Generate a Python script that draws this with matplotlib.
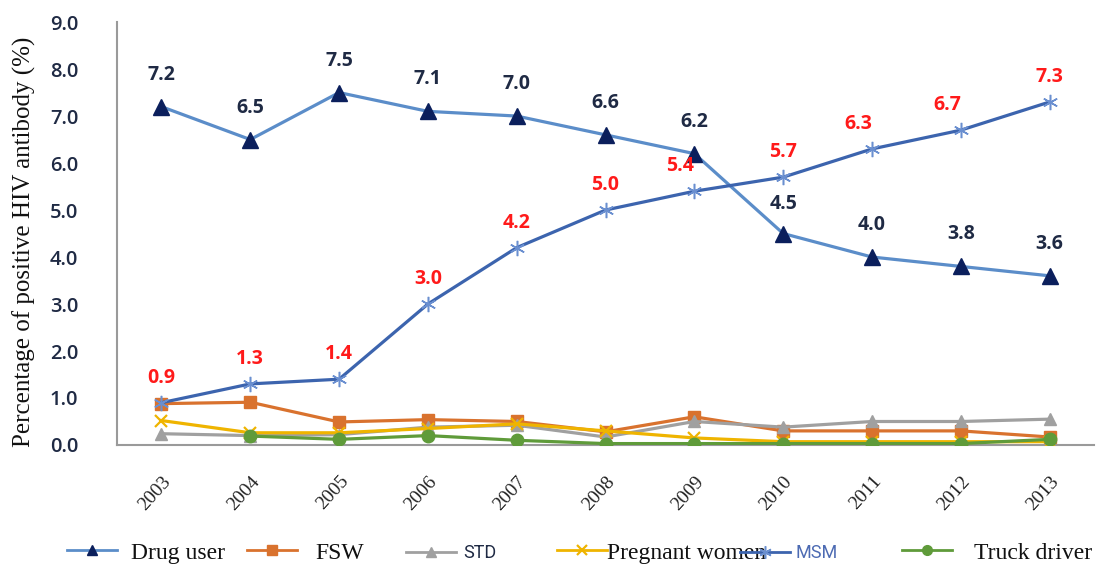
import numpy as np
import matplotlib
matplotlib.use("Agg")
import matplotlib.pyplot as plt
from matplotlib.lines import Line2D

years = ["2003", "2004", "2005", "2006", "2007", "2008", "2009", "2010", "2011", "2012", "2013"]
drug_user = [7.2, 6.5, 7.5, 7.1, 7.0, 6.6, 6.2, 4.5, 4.0, 3.8, 3.6]
fsw = [0.88, 0.91, 0.49, 0.54, 0.50, 0.28, 0.60, 0.30, 0.30, 0.30, 0.17]
std = [0.24, 0.20, 0.22, 0.38, 0.42, 0.17, 0.50, 0.38, 0.50, 0.50, 0.55]
pregnant = [0.52, 0.26, 0.26, 0.35, 0.45, 0.30, 0.15, 0.07, 0.07, 0.07, 0.07]
msm = [0.9, 1.3, 1.4, 3.0, 4.2, 5.0, 5.4, 5.7, 6.3, 6.7, 7.3]
truck = [np.nan, 0.19, 0.12, 0.20, 0.10, 0.03, 0.03, 0.03, 0.03, 0.03, 0.12]
yticks = [0, 1, 2, 3, 4, 5, 6, 7, 8, 9]

fig = plt.figure(figsize=(10.99, 5.66), dpi=100)
ax = fig.add_axes([0.1065, 0.2138, 0.889, 0.7472])
x = np.arange(len(years))

lw = 2.3
styles = {
    "Drug user": dict(color="#5b8dc9", marker="^", mfc="#0b1f5c", mec="#0b1f5c"),
    "FSW": dict(color="#d9722e", marker="s", mfc="#d9722e", mec="#d9722e"),
    "STD": dict(color="#a0a0a0", marker="^", mfc="#a0a0a0", mec="#a0a0a0"),
    "Pregnant women": dict(color="#efb400", marker="x", mec="#efb400"),
    "MSM": dict(color="#3c64ae", marker=(6, 2, 0), mec="#6a8fd0"),
    "Truck driver": dict(color="#5f9b3a", marker="o", mfc="#5f9b3a", mec="#5f9b3a"),
}
sizes = {"Drug user": 11, "FSW": 9, "STD": 9, "Pregnant women": 9, "MSM": 11, "Truck driver": 9}
mews = {"Pregnant women": 1.6, "MSM": 1.1}
series = [("Drug user", drug_user), ("FSW", fsw), ("STD", std),
          ("Pregnant women", pregnant), ("MSM", msm), ("Truck driver", truck)]
for name, vals in series:
    ax.plot(x, vals, lw=lw, ms=sizes[name], mew=mews.get(name, 1.0),
            zorder=4 if name == "MSM" else 3, **styles[name])

lab_font = dict(family=["Open Sans", "DejaVu Sans"], fontsize=14, fontweight="bold")
for i, v in enumerate(drug_user):
    off = 21 if i == 7 else 23
    ax.annotate(f"{v:.1f}", (x[i], v), xytext=(0, off), textcoords="offset points",
                ha="center", va="center", color="#1f2a44", **lab_font)
for i, v in enumerate(msm):
    dx = -10 if i in (6, 8, 9) else 0
    ax.annotate(f"{v:.1f}", (x[i], v), xytext=(dx, 18), textcoords="offset points",
                ha="center", va="center", color="#ff1a1a", **lab_font)

ax.set_xlim(-0.5, len(years) - 0.5)
ax.set_ylim(0, 9)
ax.set_yticks(yticks)
ax.set_yticklabels([f"{t:.1f}" for t in yticks], family=["Open Sans", "DejaVu Sans"],
                   fontsize=14.5, fontweight="semibold", color="#1f2a44")
ax.set_xticks(x)
ax.set_xticklabels(years, rotation=48, ha="right", rotation_mode="anchor",
                   family=["Liberation Serif"], fontsize=14, color="#222222")
ax.tick_params(axis="both", length=0)
ax.tick_params(axis="y", pad=28)
ax.tick_params(axis="x", pad=20)
for s in ("top", "right"):
    ax.spines[s].set_visible(False)
for s in ("left", "bottom"):
    ax.spines[s].set_color("#9a9a9a")
    ax.spines[s].set_linewidth(1.5)

ax.set_ylabel("Percentage of positive HIV antibody (%)", family=["Liberation Serif"],
              fontsize=18, color="#111111")
ax.yaxis.set_label_coords(-0.083, 0.48)

# legend entries placed individually to follow the reference spacing
entries = [
    ("Drug user", 0.061, 0.6, "Liberation Serif", 17, "#111111"),
    ("FSW", 0.2247, 0.8, "Liberation Serif", 17, "#111111"),
    ("STD", 0.3694, 0.3, "Roboto", 13, "#1f2a44"),
    ("Pregnant women", 0.5068, 0.0, "Liberation Serif", 17, "#111111"),
    ("MSM", 0.6733, 0.25, "Roboto", 13, "#4d6bb3"),
    ("Truck driver", 0.8208, 0.93, "Liberation Serif", 17, "#111111"),
]
for lbl, xpos, pad, fam, fs, tcol in entries:
    st = dict(styles[lbl])
    h = Line2D([], [], lw=2.0, ms=7 if lbl != "MSM" else 9,
               mew=mews.get(lbl, 1.0), **st)
    hl = 50 / (fs * 100 / 72)
    leg = fig.legend(handles=[h], labels=[lbl], loc="center left",
                     bbox_to_anchor=(xpos, 0.023), frameon=False, borderpad=0,
                     borderaxespad=0, handlelength=hl,
                     handletextpad=pad * 17 / fs,
                     prop={"family": [fam, "DejaVu Sans"], "size": fs})
    for t in leg.get_texts():
        t.set_color(tcol)

fig.savefig("out.png", dpi=100)
